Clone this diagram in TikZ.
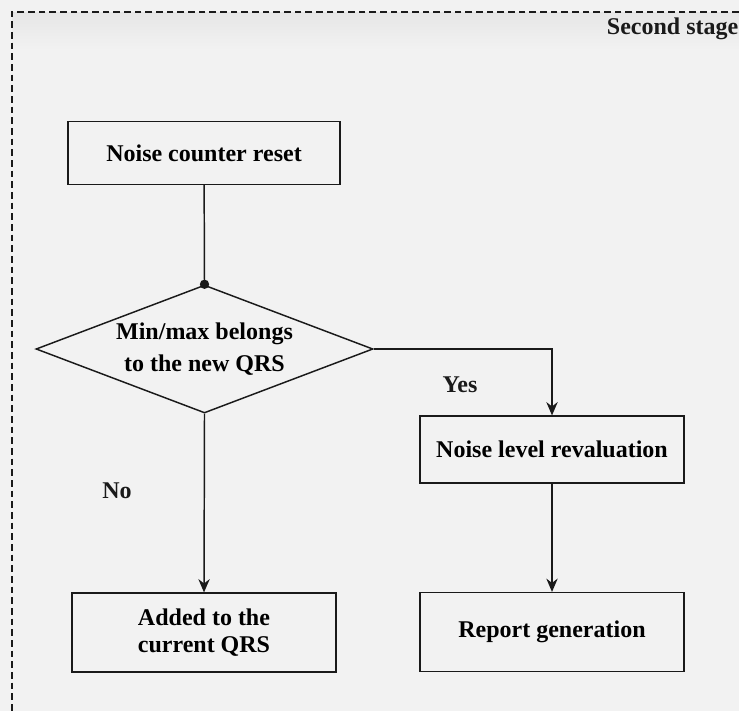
\documentclass[tikz,border=0pt]{standalone}
\usepackage{fontspec}
\setmainfont{Liberation Serif}
\usepackage{xcolor}
\usetikzlibrary{arrows.meta,positioning,shapes.geometric}
\definecolor{paper}{HTML}{F2F2F2}
\definecolor{band}{HTML}{E6E6E6}
\definecolor{ink}{HTML}{1A1A1A}

\begin{document}
\begin{tikzpicture}[
  x=0.75pt,y=-0.75pt,
  stagebox/.style={draw=ink,line width=1.1pt,fill=paper,minimum width=198pt,minimum height=50pt,align=center,font=\fontsize{18}{20}\selectfont\bfseries},
  decision/.style={draw=ink,line width=1.1pt,diamond,aspect=2.63,inner sep=0pt,minimum width=252.75pt,minimum height=96pt,fill=paper,align=center,font=\fontsize{18}{24}\selectfont\bfseries},
  tag/.style={font=\fontsize{18}{20}\selectfont\bfseries,text=ink},
  link/.style={line width=1.1pt,draw=ink},
  arrow/.style={link,-{Stealth[length=10pt,width=8.5pt]}}
]
\useasboundingbox (0,0) rectangle (739,711);
\fill[paper] (0,0) rectangle (739,711);
\clip (0,0) rectangle (739,711);
% stage frame
\shade[top color=band,bottom color=paper] (12,12) rectangle (760,50);
\draw[ink,line width=1pt,dash pattern=on 5pt off 3pt] (760,12) -- (12,12) -- (12,720);
\node[tag,anchor=east] (stage) at (743,29) {Second stage};
% flow
\node[stagebox,minimum width=204pt,minimum height=47pt] (reset) at (204,153) {Noise counter reset};
\node[decision] (belongs) at (204.5,349) {Min/max belongs\\to the new QRS};
\node[stagebox] (noise) at (552,449.5) {Noise level revaluation};
\node[stagebox,minimum height=59pt] (report) at (552,632) {Report generation};
\node[stagebox,minimum height=59pt] (added) at (204,632.5) {Added to the\\current QRS};
\node[tag] (yes) at (460,385) {Yes};
\node[tag] (no) at (117,491) {No};
\draw[link] (reset) -- (belongs.north);
\fill[ink] (belongs.north) circle (3.5pt);
\draw[arrow] (belongs.east) -| (noise.north);
\draw[arrow] (belongs.south) -- (added.north);
\draw[arrow] (noise) -- (report);
\end{tikzpicture}
\end{document}
